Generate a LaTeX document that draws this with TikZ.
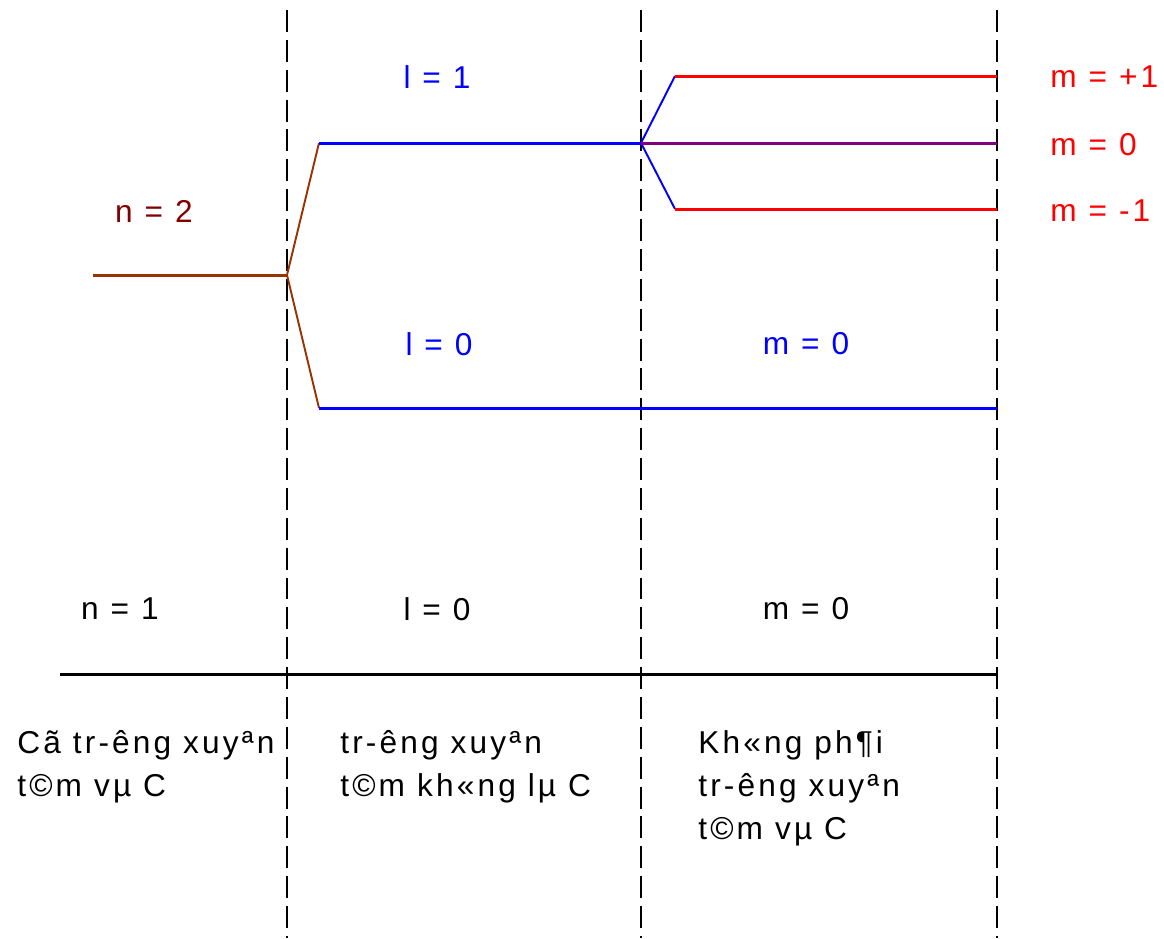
\documentclass[tikz,border=0pt]{standalone}
\usepackage{fontspec}
\setmainfont[LetterSpace=10]{Liberation Sans}
\usetikzlibrary{positioning}
\definecolor{levelbrown}{HTML}{993300}
\definecolor{labelbrown}{HTML}{800000}
\definecolor{levelblue}{HTML}{0000FF}
\definecolor{levelred}{HTML}{FF0000}
\definecolor{levelpurple}{HTML}{800080}
\tikzset{
  divider/.style={black, dashed, dash pattern=on 12.5pt off 4.5pt, line width=1.1pt},
  baseline/.style={black, line width=1.7pt},
  brownlevel/.style={levelbrown, line width=1.7pt},
  brownsplit/.style={levelbrown, line width=1.1pt},
  bluelevel/.style={levelblue, line width=1.7pt},
  bluesplit/.style={levelblue, line width=1.1pt},
  redlevel/.style={levelred, line width=1.7pt},
  purplelevel/.style={levelpurple, line width=1.7pt},
  qlabel/.style={font=\fontsize{18}{24}\selectfont, inner sep=0pt},
  notetext/.style={font=\fontsize{18}{24.4}\selectfont, align=left, inner sep=0pt, anchor=north west}
}
\begin{document}
\begin{tikzpicture}[x=0.02cm, y=-0.02cm]
  \useasboundingbox (0,0) rectangle (1164,938);
  % dividers
  \foreach \xx/\nm in {287/da,641/db,997/dc}{
    \coordinate (\nm top) at (\xx,10);
    \coordinate (\nm bot) at (\xx,938);
    \draw[divider] (\nm top) -- (\nm bot);
  }
  % n = 2 level and its splitting
  \coordinate (ntwo) at (93,275);
  \coordinate (nsplit) at (287,275);
  \coordinate (lone) at (319,143);
  \coordinate (lzero) at (319,408);
  \coordinate (lsplit) at (641,143);
  \coordinate (lzeroend) at (997,408);
  \coordinate (mplus) at (675,76);
  \coordinate (mminus) at (675,209);
  \coordinate (mplusend) at (997,76);
  \coordinate (mzeroend) at (997,143);
  \coordinate (mminusend) at (997,209);
  \draw[brownlevel] (ntwo) -- (nsplit);
  \draw[brownsplit] (nsplit) -- (lone);
  \draw[brownsplit] (nsplit) -- (lzero);
  \draw[bluelevel] (lone) -- (lsplit);
  \draw[bluelevel] (lzero) -- (lzeroend);
  \draw[bluesplit] (lsplit) -- (mplus);
  \draw[bluesplit] (lsplit) -- (mminus);
  \draw[redlevel] (mplus) -- (mplusend);
  \draw[redlevel] (mminus) -- (mminusend);
  \draw[purplelevel] (lsplit) -- (mzeroend);
  % n = 1 level
  \coordinate (none) at (60,674);
  \coordinate (noneend) at (997,674);
  \draw[baseline] (none) -- (noneend);
  % quantum number labels
  \node[qlabel, labelbrown] (ntwolabel) at (154,211) {n = 2};
  \node[qlabel, levelblue] (lonelabel) at (437,77) {l = 1};
  \node[qlabel, levelblue] (lzerolabel) at (439,344) {l = 0};
  \node[qlabel, levelblue] (mzerolabel) at (806,344) {m = 0};
  \node[qlabel, levelred, anchor=west] (mplabel) at (1050,77) {m = +1};
  \node[qlabel, levelred, anchor=west] (mzlabel) at (1050,145) {m = 0};
  \node[qlabel, levelred, anchor=west] (mmlabel) at (1050,211) {m = -1};
  \node[qlabel] (nonelabel) at (120,609) {n = 1};
  \node[qlabel] (lgroundlabel) at (437,609) {l = 0};
  \node[qlabel] (mgroundlabel) at (806,609) {m = 0};
  % captions
  \node[notetext] (capa) at (17,730) {Cã tr-êng xuyªn\\t©m vµ C};
  \node[notetext] (capb) at (340,730) {tr-êng xuyªn\\t©m kh«ng lµ C};
  \node[notetext] (capc) at (698,730) {Kh«ng ph¶i\\tr-êng xuyªn\\t©m vµ C};
\end{tikzpicture}
\end{document}
